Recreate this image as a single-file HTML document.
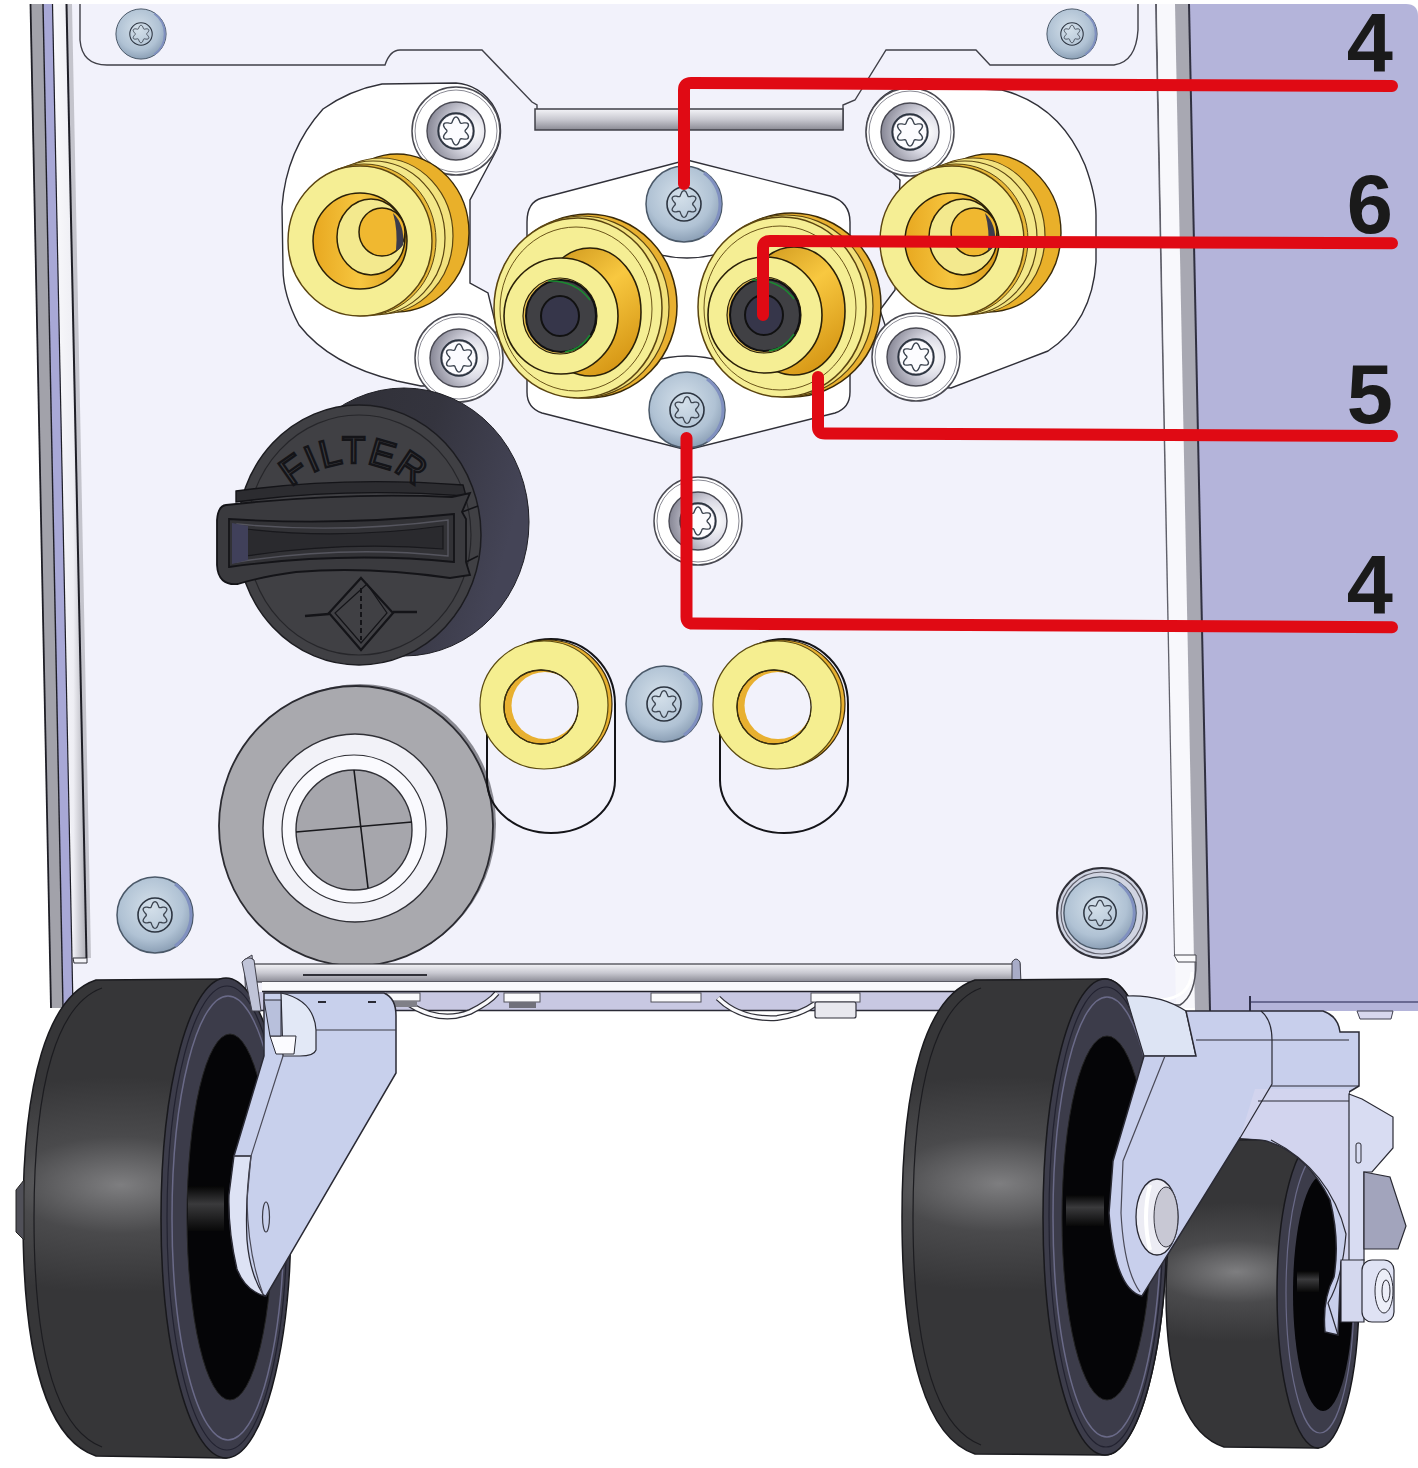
<!DOCTYPE html>
<html><head><meta charset="utf-8">
<style>
html,body{margin:0;padding:0;background:#fff;width:1418px;height:1468px;overflow:hidden}
svg{display:block}
</style></head><body>
<svg width="1418" height="1468" viewBox="0 0 1418 1468">
<defs>
  <radialGradient id="gBlue" cx="0.45" cy="0.4" r="0.6">
    <stop offset="0" stop-color="#d4e0ea"/><stop offset="0.7" stop-color="#b0c2d4"/><stop offset="1" stop-color="#8ca0b6"/>
  </radialGradient>
  <radialGradient id="gHead" cx="0.78" cy="0.5" r="0.75">
    <stop offset="0" stop-color="#ffffff"/><stop offset="0.45" stop-color="#dcdce6"/><stop offset="1" stop-color="#8c8c9a"/>
  </radialGradient>
  <linearGradient id="gCapBody" x1="0" y1="0" x2="1" y2="0.3">
    <stop offset="0" stop-color="#2e2e34"/><stop offset="0.6" stop-color="#34343e"/><stop offset="1" stop-color="#444456"/>
  </linearGradient>
  <linearGradient id="gOrange" x1="0" y1="0" x2="1" y2="0">
    <stop offset="0" stop-color="#e8a820"/><stop offset="0.5" stop-color="#f6c640"/><stop offset="1" stop-color="#d89a18"/>
  </linearGradient>
  <linearGradient id="gOrange2" x1="0" y1="0" x2="0.6" y2="1">
    <stop offset="0" stop-color="#c89018"/><stop offset="0.5" stop-color="#f8c840"/><stop offset="1" stop-color="#d89a18"/>
  </linearGradient>
  <linearGradient id="gHub" x1="0" y1="0" x2="0" y2="1">
    <stop offset="0" stop-color="#050505"/><stop offset="0.4" stop-color="#3a3a3c"/><stop offset="1" stop-color="#080808"/>
  </linearGradient>
  <linearGradient id="gRail" x1="0" y1="0" x2="0" y2="1">
    <stop offset="0" stop-color="#f4f4f8"/><stop offset="0.5" stop-color="#c8c8d0"/><stop offset="1" stop-color="#8a8a94"/>
  </linearGradient>
  <radialGradient id="gTire" cx="0.37" cy="0.43" r="0.5" gradientTransform="translate(0.37,0.43) scale(1.9,0.45) translate(-0.37,-0.43)">
    <stop offset="0" stop-color="#7e7e80"/><stop offset="0.45" stop-color="#4a4a4c"/><stop offset="1" stop-color="#363638"/>
  </radialGradient>
  <linearGradient id="gCap" x1="0" y1="0" x2="1" y2="1">
    <stop offset="0" stop-color="#3a3a40"/><stop offset="1" stop-color="#2a2a34"/>
  </linearGradient>
  <g id="torx">
    <circle r="17" fill="none" stroke="#2c3440" stroke-width="1.6"/>
    <path d="M0.0,-13.4 L1.1,-13.0 L2.1,-12.0 L2.8,-10.6 L3.4,-9.2 L3.8,-8.1 L4.3,-7.4 L5.1,-7.3 L6.3,-7.5 L7.8,-7.8 L9.3,-7.8 L10.7,-7.5 L11.6,-6.7 L11.9,-5.5 L11.5,-4.2 L10.6,-2.8 L9.7,-1.7 L8.9,-0.8 L8.6,0.0 L8.9,0.8 L9.7,1.7 L10.6,2.8 L11.5,4.2 L11.9,5.5 L11.6,6.7 L10.7,7.5 L9.3,7.8 L7.8,7.8 L6.3,7.5 L5.1,7.3 L4.3,7.4 L3.8,8.1 L3.4,9.2 L2.8,10.6 L2.1,12.0 L1.1,13.0 L0.0,13.4 L-1.1,13.0 L-2.1,12.0 L-2.8,10.6 L-3.4,9.2 L-3.8,8.1 L-4.3,7.4 L-5.1,7.3 L-6.3,7.5 L-7.8,7.8 L-9.3,7.8 L-10.7,7.5 L-11.6,6.7 L-11.9,5.5 L-11.5,4.2 L-10.6,2.8 L-9.7,1.7 L-8.9,0.8 L-8.6,0.0 L-8.9,-0.8 L-9.7,-1.7 L-10.6,-2.8 L-11.5,-4.2 L-11.9,-5.5 L-11.6,-6.7 L-10.7,-7.5 L-9.3,-7.8 L-7.8,-7.8 L-6.3,-7.5 L-5.1,-7.3 L-4.3,-7.4 L-3.8,-8.1 L-3.4,-9.2 L-2.8,-10.6 L-2.1,-12.0 L-1.1,-13.0 Z" fill="none" stroke="#3c4450" stroke-width="1.3"/>
  </g>
  <g id="bscrew">
    <circle r="38" fill="url(#gBlue)" stroke="#4a5868" stroke-width="1.5"/>
    <path d="M20,-31 A38 38 0 0 1 20,31" fill="none" stroke="#8090c0" stroke-width="3"/>
    <use href="#torx"/>
  </g>
  <g id="wscrew">
    <circle r="44" fill="#fff" stroke="#4a4a52" stroke-width="1.5"/>
    <circle r="41" fill="none" stroke="#8a8a94" stroke-width="1"/>
    <circle r="29" fill="url(#gHead)" stroke="#4a4a54" stroke-width="1.4"/>
    <circle r="17" fill="#fcfcff" stroke="#6a6a74" stroke-width="1"/>
    <use href="#torx" transform="scale(1.05)"/>
  </g>
</defs>

<!-- right purple side -->
<path d="M1189,4 L1406,4 Q1418,4 1418,16 L1418,1011 L1210,1011 Z" fill="#b4b4da"/>
<path d="M1250,1002 L1418,1002" stroke="#50507a" stroke-width="1.5"/>
<path d="M1250,996 L1250,1011" stroke="#30304a" stroke-width="2"/>
<path d="M1357,1011 L1393,1011 L1391,1019 L1360,1019 Z" fill="#d8d8ee" stroke="#404050" stroke-width="1"/>
<!-- panel face -->
<path d="M66,4 L1156,4 L1177,1010 L72,1010 Z" fill="#f2f2fb"/>
<!-- right edge strips -->
<path d="M1155,4 L1157,4 L1176,955 L1174,955 Z" fill="#60606a"/>
<path d="M1157,4 L1175,4 L1195,1008 L1176,1008 Z" fill="#f8f8fc"/>
<path d="M1175,4 L1189,4 L1210,1011 L1195,1011 Z" fill="#a8a8b2"/>
<path d="M1188,4 L1190,4 L1211,1011 L1209,1011 Z" fill="#303040"/>
<!-- left edge strips -->
<defs>
  <linearGradient id="gWs" x1="0" y1="0" x2="1" y2="0">
    <stop offset="0" stop-color="#fafafc"/><stop offset="0.6" stop-color="#eeeef4"/><stop offset="1" stop-color="#a8a8b0"/>
  </linearGradient>
</defs>
<path d="M30,4 L43,4 L63,1008 L51,1008 Z" fill="#a2a2aa"/>
<path d="M43,4 L53,4 L73,1008 L63,1008 Z" fill="#a8a8d6"/>
<path d="M53,4 L66,4 L87,958 L73,958 Z" fill="url(#gWs)"/>
<path d="M66,4 L72,4 L91,958 L86,958 Z" fill="#c4c4cc"/>
<path d="M73,958 L87,958 L87,963 L74,963 Z" fill="#f4f4f8" stroke="#303038" stroke-width="1"/>
<g fill="none" stroke="#1e1e26">
  <path d="M30.5,4 L51,1008" stroke-width="1.8"/>
  <path d="M43,4 L63,1008" stroke-width="1.4"/>
  <path d="M52.5,4 L73,1008" stroke-width="1.2"/>
  <path d="M66.5,4 L86.5,958" stroke-width="2"/>
</g>

<!-- top plate outline -->
<path d="M80,4 L80,40 Q82,65 107,65 L385,65 Q390,50 400,50 L482,50 L532,102 L537,105 L537,130" fill="none" stroke="#404048" stroke-width="1.4"/>
<path d="M843,130 L843,105 L855,100 L886,50 L976,50 L990,65 L1114,65 Q1136,62 1138,30 L1138,4" fill="none" stroke="#404048" stroke-width="1.4"/>
<use href="#bscrew" transform="translate(141,34) scale(0.66)"/>
<use href="#bscrew" transform="translate(1072,34) scale(0.66)"/>
<!-- rail top -->
<rect x="535" y="109" width="308" height="21" fill="url(#gRail)" stroke="#404048" stroke-width="1.5"/>


<!-- ===== white mounting plates ===== -->
<path d="M382,84 L456,83 A48 48 0 0 1 494,155 L470,200 L470,283 L488,293 L497,330 L470,385 L421,386 L397,381 Q330,365 299,325 Q283,295 283,268 L282,207 Q286,150 323,109 Q350,90 382,84 Z" fill="#fff" stroke="#303038" stroke-width="1.4"/>
<path d="M1002,90 Q1060,105 1085,165 Q1096,195 1096,215 L1096,262 Q1092,322 1048,351 L951,388 L905,385 L880,310 L895,290 L900,180 L870,150 A46 46 0 0 1 910,86 Z" fill="#fff" stroke="#303038" stroke-width="1.4"/>
<path d="M687,160 L830,196 Q850,202 850,222 L850,392 Q850,408 835,413 L687,450 L542,413 Q527,408 527,392 L527,222 Q527,202 542,198 Z" fill="#fff" stroke="#303038" stroke-width="1.4"/>

<path d="M650,252 Q687,264 724,252 M650,362 Q687,350 724,362" fill="none" stroke="#303038" stroke-width="1.3"/>
<!-- plate screws -->
<use href="#wscrew" transform="translate(456,131)"/>
<use href="#wscrew" transform="translate(459,358)"/>
<use href="#wscrew" transform="translate(910,132)"/>
<use href="#wscrew" transform="translate(916,357)"/>
<use href="#bscrew" transform="translate(684,204)"/>
<use href="#bscrew" transform="translate(687,410)"/>
<use href="#wscrew" transform="translate(698,521)"/>


<!-- ===== outer connectors ===== -->
<g id="connL">
  <ellipse cx="397" cy="233" rx="72" ry="79" fill="#e9b02a" stroke="#3a2a08" stroke-width="1.4"/>
  <ellipse cx="381" cy="236" rx="72" ry="78" fill="#f2e27e" stroke="#5a4410" stroke-width="1.2"/>
  <ellipse cx="373" cy="238" rx="72" ry="77" fill="#f4e88a" stroke="#5a4410" stroke-width="1.2"/>
  <ellipse cx="364" cy="240" rx="72" ry="76" fill="#e8b838" stroke="#5a4410" stroke-width="1"/>
  <ellipse cx="360" cy="241" rx="72" ry="75" fill="#f5ee94" stroke="#5a4410" stroke-width="1.4"/>
  <ellipse cx="360" cy="241" rx="47" ry="48" fill="url(#gOrange)" stroke="#2a2008" stroke-width="1.5"/>
  <ellipse cx="371" cy="237" rx="34" ry="38" fill="#f3e98e" stroke="#2a2008" stroke-width="1.5"/>
  <ellipse cx="382" cy="232" rx="23" ry="24" fill="#f0b830" stroke="#2a2008" stroke-width="1.5"/>
  <path d="M393,213 Q405,225 403,245 Q398,252 396,250 Q398,230 393,213 Z" fill="#3c3c4c"/>
</g>
<use href="#connL" transform="translate(592,0)"/>

<!-- ===== center connectors ===== -->
<g id="connC">
  <ellipse cx="588" cy="306" rx="89" ry="92" fill="#e8b030" stroke="#3a2a08" stroke-width="1.5"/>
  <ellipse cx="582" cy="307" rx="87" ry="91" fill="#f2e07a" stroke="#5a4410" stroke-width="1.2"/>
  <ellipse cx="578" cy="308" rx="84" ry="90" fill="#f5ee94" stroke="#5a4410" stroke-width="1.5"/>
  <ellipse cx="576" cy="309" rx="76" ry="82" fill="none" stroke="#6a5418" stroke-width="1"/>
  <ellipse cx="590" cy="312" rx="51" ry="64" fill="url(#gOrange2)" stroke="#2a2008" stroke-width="1.6"/>
  <ellipse cx="561" cy="316" rx="57" ry="58" fill="#f5ee94" stroke="#2a2008" stroke-width="1.6"/>
  <ellipse cx="560" cy="316" rx="37" ry="38" fill="#e8c050" stroke="#2a2008" stroke-width="1.2"/>
  <ellipse cx="561" cy="316" rx="35" ry="36" fill="#404044" stroke="#101012" stroke-width="2"/>
  <path d="M548,281 Q575,280 590,300" fill="none" stroke="#1a8a30" stroke-width="1.5"/>
  <path d="M590,335 Q580,350 565,352" fill="none" stroke="#1a8a30" stroke-width="1.5"/>
  <ellipse cx="560" cy="316" rx="19" ry="20" fill="#36364a" stroke="#111" stroke-width="2"/>
</g>
<use href="#connC" transform="translate(204,-1)"/>

<!-- ===== filter cap ===== -->
<g id="filter">
  <ellipse cx="404" cy="522" rx="125" ry="134" fill="url(#gCapBody)" stroke="#202026" stroke-width="1"/>
  <ellipse cx="359" cy="535" rx="122" ry="130" fill="#404044" stroke="#1c1c20" stroke-width="1.5"/>
  <ellipse cx="359" cy="535" rx="112" ry="120" fill="none" stroke="#26262a" stroke-width="1.2"/>
  <!-- handle -->
  <path d="M236,491 Q345,476 463,485 L466,496 Q345,487 236,502 Z" fill="#2c2c30" stroke="#141418" stroke-width="1.4"/>
  <path d="M226,505 Q345,492 452,497 L470,493 L462,512 L466,519 L466,562 L470,575 L450,578 Q367,566 296,572 Q260,577 238,584 Q218,586 217,565 L217,520 Q218,506 226,505 Z" fill="#3a3a3e" stroke="#141418" stroke-width="1.8"/>
  <path d="M229,519 Q340,526 454,514 L454,562 Q345,551 229,567 Z" fill="#323236" stroke="#141418" stroke-width="1.8"/>
  <path d="M237,524 Q340,534 448,520 L448,556 Q345,545 237,562 Z" fill="none" stroke="#55555e" stroke-width="1.4"/>
  <path d="M246,529 Q340,540 443,526 L443,549 Q345,541 246,556 Z" fill="#2a2a2e" stroke="#18181c" stroke-width="1.2"/>
  <path d="M232,523 L248,526 L248,560 L232,564 Z" fill="#40405a"/>
  <path d="M462,512 L478,506 M466,562 L478,556" stroke="#141418" stroke-width="1.5"/>
  <!-- FILTER text -->
  <path id="arcF" d="M262,555 A92 92 0 0 1 446,555" fill="none"/>
  <text font-family="Liberation Sans, sans-serif" font-size="38" fill="none" stroke="#141418" stroke-width="2.4" letter-spacing="1.5"><textPath href="#arcF" startOffset="50%" text-anchor="middle">FILTER</textPath></text>
  <!-- diamond symbol -->
  <path d="M361,578 L393,613 L361,650 L329,613 Z" fill="none" stroke="#141418" stroke-width="2.2"/>
  <path d="M367,584 L387,613 L361,643 L335,613 Z" fill="none" stroke="#141418" stroke-width="1.2"/>
  <path d="M305,616 L329,614 M393,612 L417,612" stroke="#141418" stroke-width="2.5"/>
  <path d="M361,588 L361,640" stroke="#141418" stroke-width="2" stroke-dasharray="5,3"/>
</g>

<!-- ===== grommet ===== -->
<g id="grommet">
  <ellipse cx="360" cy="824" rx="136" ry="140" fill="#8a8a92"/>
  <ellipse cx="356" cy="826" rx="137" ry="140" fill="#a9a9ae" stroke="#2a2a30" stroke-width="1.8"/>
  <ellipse cx="355" cy="828" rx="92" ry="94" fill="#f2f2f8" stroke="#303036" stroke-width="1.4"/>
  <ellipse cx="354" cy="829" rx="72" ry="74" fill="#fafafe" stroke="#303036" stroke-width="1.2"/>
  <ellipse cx="354" cy="830" rx="58" ry="60" fill="#a6a6ac" stroke="#303036" stroke-width="1.4"/>
  <path d="M296,832 L412,822" stroke="#18181c" stroke-width="1.6"/>
  <path d="M354,770 L368,888" stroke="#18181c" stroke-width="1.6"/>
</g>

<!-- ===== small rings + slots ===== -->
<g id="ring">
  <path d="M487,704 A64 65 0 0 1 615,704 L615,780 A64 53 0 0 1 487,780 Z" fill="none" stroke="#141418" stroke-width="2"/>
  <circle cx="548" cy="704" r="64" fill="#e8b030" stroke="#3a2a08" stroke-width="1.2"/>
  <circle cx="544" cy="705" r="64" fill="#f5ee90" stroke="#5a4a10" stroke-width="1.2"/>
  <circle cx="541" cy="707" r="37" fill="#e8b030" stroke="#2a2008" stroke-width="1.3"/>
  <circle cx="545" cy="705.5" r="33.5" fill="#f2f2fb"/>
  <circle cx="541" cy="707" r="37" fill="none" stroke="#3a3010" stroke-width="1.2"/>
</g>
<use href="#ring" transform="translate(233,0)"/>
<use href="#bscrew" transform="translate(664,704)"/>
<use href="#bscrew" transform="translate(155,915)"/>
<circle cx="1102" cy="913" r="45" fill="#d0d4e2" stroke="#303038" stroke-width="2"/>
<circle cx="1102" cy="913" r="41" fill="none" stroke="#60606c" stroke-width="1.2"/>
<use href="#bscrew" transform="translate(1100,913) scale(0.95)"/>

<!-- ===== bottom rail ===== -->
<rect x="250" y="992" width="770" height="18" fill="#c8c8e2"/>
<path d="M250,1010.5 L1020,1010.5" stroke="#2a2a36" stroke-width="1.4"/>
<path d="M409,1004 Q440,1024 470,1012 Q490,1002 497,993" fill="none" stroke="#303038" stroke-width="6"/>
<path d="M409,1004 Q440,1024 470,1012 Q490,1002 497,993" fill="none" stroke="#fafafc" stroke-width="3.5"/>
<path d="M718,998 Q740,1020 777,1018 Q800,1015 815,1004" fill="none" stroke="#303038" stroke-width="6"/>
<path d="M718,998 Q740,1020 777,1018 Q800,1015 815,1004" fill="none" stroke="#fafafc" stroke-width="3.5"/>
<rect x="386" y="993" width="34" height="8" fill="#fafafc" stroke="#50505a" stroke-width="1"/>
<rect x="389" y="1001" width="28" height="6" fill="#808088"/>
<rect x="504" y="993" width="36" height="9" fill="#fafafc" stroke="#50505a" stroke-width="1"/>
<rect x="509" y="1002" width="27" height="6" fill="#70707a"/>
<rect x="651" y="993" width="50" height="9" fill="#fafafc" stroke="#50505a" stroke-width="1"/>
<rect x="811" y="993" width="49" height="9" fill="#fafafc" stroke="#50505a" stroke-width="1"/>
<rect x="815" y="1002" width="41" height="16" rx="2" fill="#e8e8ee" stroke="#30303a" stroke-width="1.2"/>
<rect x="250" y="964" width="770" height="18" fill="url(#gRail)" stroke="#3a3a42" stroke-width="1.2"/>
<path d="M303,975 L427,975" stroke="#303038" stroke-width="2"/>
<rect x="262" y="982" width="760" height="9" fill="#fafafc"/>
<path d="M262,991.5 L1020,991.5" stroke="#20202a" stroke-width="1.6"/>
<path d="M244,960 L252,955 L256,1000 L246,1000 Z" fill="#b8b8c8" stroke="#40404a" stroke-width="1"/>
<path d="M1012,962 Q1016,956 1020,962 L1021,982 L1012,982 Z" fill="#a8acc8" stroke="#40404a" stroke-width="1"/>
<path d="M1174,955 L1196,955 L1196,962 L1178,962 Z" fill="#fafafc" stroke="#404048" stroke-width="1"/>
<path d="M1196,962 Q1196,995 1180,1005 L1140,1005" fill="none" stroke="#505058" stroke-width="1.5"/>
<path d="M1192,972 Q1190,998 1160,1000" fill="none" stroke="#ffffff" stroke-width="3"/>

<!-- ===== wheels ===== -->
<g id="wheelL">
  <path d="M96,980 L226,979 A65 240 0 0 1 226,1458 L96,1456 C48,1440 23,1360 23,1218 C23,1080 48,996 96,980 Z" fill="url(#gTire)" stroke="#1a1a1e" stroke-width="1.5"/>
  <path d="M102,988 C58,1004 34,1080 34,1218 C34,1356 58,1430 102,1447" fill="none" stroke="#1c1c20" stroke-width="1.2"/>
  <ellipse cx="226" cy="1218" rx="65" ry="240" fill="#3c3c4a" stroke="#18181c" stroke-width="1.5"/>
  <ellipse cx="227" cy="1218" rx="60" ry="232" fill="none" stroke="#222230" stroke-width="1.2"/>
  <ellipse cx="228" cy="1218" rx="56" ry="222" fill="none" stroke="#6a6a88" stroke-width="1.5"/>
  <ellipse cx="230" cy="1217" rx="43" ry="183" fill="#050507" stroke="#222" stroke-width="1"/>
  <path d="M188,1186 L224,1186 L224,1231 L188,1231 Z" fill="url(#gHub)"/>
  <path d="M16,1190 L24,1180 L24,1240 L16,1232 Z" fill="#505058" stroke="#222" stroke-width="1"/>
</g>
<g id="wheelR">
  <path d="M975,980 L1105,979 A62 238 0 0 1 1105,1455 L975,1454 C927,1438 902,1358 902,1217 C902,1078 927,996 975,980 Z" fill="url(#gTire)" stroke="#1a1a1e" stroke-width="1.5"/>
  <path d="M981,988 C937,1004 913,1080 913,1217 C913,1354 937,1428 981,1445" fill="none" stroke="#1c1c20" stroke-width="1.2"/>
  <ellipse cx="1105" cy="1217" rx="62" ry="238" fill="#3c3c4a" stroke="#18181c" stroke-width="1.5"/>
  <ellipse cx="1106" cy="1217" rx="57" ry="230" fill="none" stroke="#222230" stroke-width="1.2"/>
  <ellipse cx="1107" cy="1217" rx="54" ry="220" fill="none" stroke="#6a6a88" stroke-width="1.5"/>
  <ellipse cx="1107" cy="1218" rx="45" ry="182" fill="#050507" stroke="#222" stroke-width="1"/>
  <path d="M1066,1195 L1104,1195 L1104,1226 L1066,1226 Z" fill="url(#gHub)"/>
</g>
<g id="wheelS">
  <path d="M1224,1140 L1318,1139 A41 155 0 0 1 1318,1448 L1224,1447 C1190,1436 1166,1390 1166,1293 C1166,1200 1190,1150 1224,1140 Z" fill="url(#gTire)" stroke="#1a1a1e" stroke-width="1.5"/>
  <ellipse cx="1318" cy="1293" rx="41" ry="155" fill="#3c3c4a" stroke="#18181c" stroke-width="1.5"/>
  <ellipse cx="1320" cy="1293" rx="34" ry="140" fill="none" stroke="#6a6a88" stroke-width="1.2"/>
  <ellipse cx="1323" cy="1293" rx="30" ry="118" fill="#050507"/>
  <path d="M1297,1271 L1319,1271 L1319,1292 L1297,1292 Z" fill="url(#gHub)"/>
</g>

<!-- ===== left bracket ===== -->
<g id="bracketL">
  <path d="M242,962 Q248,955 254,960 L261,1011 L252,1011 Z" fill="#c0c4d8" stroke="#40404a" stroke-width="1"/>
  <path d="M264,993 L384,993 Q396,998 396,1016 L396,1073 L266,1296 Q245,1290 237,1269 Q228,1230 229,1195 L234,1156 L264,1056 Z" fill="#c8d0ec" stroke="#2a2a34" stroke-width="1.5"/>
  <path d="M281,993 Q314,1000 316,1030 L316,1050 Q314,1056 300,1056 L283,1056 Z" fill="#e2e8f6" stroke="#2a2a34" stroke-width="1.2"/>
  <path d="M270,1036 L296,1036 L294,1054 L276,1054 Z" fill="#fbfbff" stroke="#2a2a34" stroke-width="1"/>
  <path d="M264,1000 L281,1000 L281,1036 L270,1036 Z" fill="#b8c0dc" stroke="#2a2a34" stroke-width="1"/>
  <path d="M316,1030 L396,1030" stroke="#3a3a44" stroke-width="1.2"/>
  <path d="M234,1156 L251,1156 Q245,1200 247,1240 Q250,1275 264,1296 Q245,1290 237,1269 Q228,1230 229,1195 Z" fill="#dde2f4" stroke="#2a2a34" stroke-width="1.3"/>
  <path d="M283,1056 L251,1156 L247,1200 Q248,1255 263,1294" fill="none" stroke="#4a4a58" stroke-width="1.2"/>
  <path d="M234,1156 L251,1156" stroke="#4a4a58" stroke-width="1.2"/>
  <path d="M318,1002 L326,1002 M368,1002 L376,1002" stroke="#2a2a34" stroke-width="2"/>
  <ellipse cx="266" cy="1217" rx="3.5" ry="15" fill="none" stroke="#3a3a44" stroke-width="1.2"/>
</g>

<!-- ===== right bracket ===== -->
<g id="bracketR">
  <path d="M1126,996 Q1160,994 1186,1011 L1196,1056 L1165,1056 L1144,1056 Z" fill="#dde4f4" stroke="#2a2a34" stroke-width="1.2"/>
  <path d="M1186,1011 L1323,1011 Q1338,1016 1340,1032 L1359,1032 L1359,1086 L1349,1092 L1349,1262 L1341,1262 L1338,1335 L1325,1332 Q1322,1300 1334,1277 Q1340,1240 1330,1200 Q1305,1150 1262,1140 L1240,1138 L1142,1296 Q1115,1290 1109,1213 L1113,1161 L1144,1056 L1196,1056 Z" fill="#c8cfec" stroke="#2a2a34" stroke-width="1.5"/>
  <path d="M1255,1089 L1349,1089 L1349,1262 L1341,1262 Q1346,1240 1346,1234 Q1330,1170 1271,1140 L1240,1138 Z" fill="#d2d4ee"/>
  <path d="M1271,1140 Q1330,1170 1346,1234 Q1342,1280 1328,1303 L1338,1335" fill="none" stroke="#2a2a34" stroke-width="1.2"/>
  <path d="M1196,1040 L1349,1040 M1271,1086 L1359,1086 M1258,1101 L1349,1101" stroke="#2a2a34" stroke-width="1.2"/>
  <path d="M1261,1011 Q1272,1020 1272,1040 L1272,1084 L1240,1138" fill="none" stroke="#2a2a34" stroke-width="1.2"/>
  <path d="M1144,1056 L1193,1056 M1165,1056 L1123,1161 L1121,1213 Q1124,1270 1140,1292" fill="none" stroke="#4a4a58" stroke-width="1.2"/>
  <path d="M1349,1094 L1362,1099 L1393,1117 L1393,1148 L1372,1172 L1364,1172 L1364,1260 L1349,1262 Z" fill="#d8dcf2" stroke="#2a2a34" stroke-width="1.2"/>
  <path d="M1364,1172 L1390,1177 L1406,1226 L1398,1249 L1364,1249 Z" fill="#a2a4bc" stroke="#2a2a34" stroke-width="1.2"/>
  <path d="M1341,1260 L1364,1260 L1364,1322 L1341,1322 Z" fill="#d4d8ee" stroke="#2a2a34" stroke-width="1.2"/>
  <rect x="1362" y="1260" width="32" height="62" rx="10" fill="#dfe2f4" stroke="#2a2a34" stroke-width="1.2"/>
  <ellipse cx="1384" cy="1291" rx="9" ry="22" fill="#eceef8" stroke="#2a2a34" stroke-width="1"/>
  <ellipse cx="1386" cy="1291" rx="4" ry="11" fill="none" stroke="#2a2a34" stroke-width="1"/>
  <rect x="1356" y="1143" width="5" height="20" rx="2" fill="none" stroke="#2a2a34" stroke-width="1"/>
  <ellipse cx="1157" cy="1217" rx="21" ry="38" fill="#ececf4" stroke="#2a2a34" stroke-width="1.3"/>
  <ellipse cx="1166" cy="1217" rx="12" ry="30" fill="#c8c8d4" stroke="#3a3a44" stroke-width="1"/>
  <path d="M1150,1185 Q1142,1217 1150,1250" fill="none" stroke="#ffffff" stroke-width="4"/>
</g>

<!-- ===== red callout lines ===== -->
<g fill="none" stroke="#e00a14" stroke-width="12" stroke-linecap="round" stroke-linejoin="round">
  <path d="M684,184 L684,90 Q684,83 691,83 L1392,86"/>
  <path d="M763,315 L763,248 Q763,241 770,241 L1392,243.3"/>
  <path d="M818,377 L818,427 Q818,433.5 825,433.5 L1392,436"/>
  <path d="M686.5,438 L686.5,617 Q686.5,623.6 693,623.6 L1392,627.2"/>
</g>
<g font-family="Liberation Sans, sans-serif" font-weight="bold" font-size="83" fill="#1a1a1a" text-anchor="end">
  <text x="1393" y="72">4</text>
  <text x="1393" y="233">6</text>
  <text x="1393" y="423">5</text>
  <text x="1393" y="614">4</text>
</g>

<g id="content"></g>
</svg>
</body></html>
